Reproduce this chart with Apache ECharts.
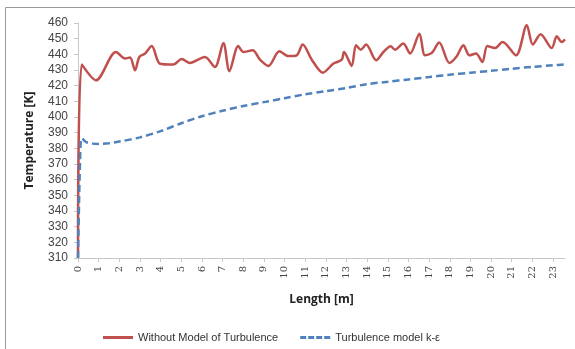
<!DOCTYPE html>
<html><head><meta charset="utf-8">
<script src="https://cdn.jsdelivr.net/npm/echarts@6/dist/echarts.min.js"></script>
<style>html,body{margin:0;padding:0;background:#fff}#c{width:575px;height:349px}</style>
</head><body><div id="c"></div>
<script>
const seriesNames = ["Without Model of Turbulence", "Turbulence model k-ε"];
const xTicks = [0,1,2,3,4,5,6,7,8,9,10,11,12,13,14,15,16,17,18,19,20,21,22,23];
const redX = [0,0.18,0.87,1.84,2.28,2.52,2.76,2.97,3.25,3.57,3.97,4.62,5.02,5.42,5.91,6.15,6.63,7.04,7.33,7.76,8.0,8.46,8.81,9.22,9.75,10.19,10.59,10.88,11.32,11.85,12.37,12.77,12.88,13.25,13.46,13.69,13.95,14.44,14.79,15.14,15.35,15.75,16.08,16.53,16.80,17.13,17.49,17.98,18.34,18.66,18.95,19.27,19.58,19.82,20.19,20.56,21.21,21.73,22.02,22.40,22.94,23.18,23.42,23.58];
const redY = [310,433.5,423.4,441.5,437.3,438,429.8,438.3,440.5,445.3,434,433.5,437,434.5,437.3,438.3,431.9,447.2,429.2,445.3,441.5,442.6,436.6,432.6,441.9,438.9,439.4,446.2,436.6,428.3,434.1,436.6,441.5,432.6,445.8,443,446.2,436.2,441.5,445.1,443,446.9,440.5,453.2,439.4,440.9,447.5,434.5,438.8,445.8,439.4,440.5,435.1,445.3,444,447.9,439.4,458.5,446.2,452.8,444,451.5,447.9,449.6];
const blueX = [0,0.1,0.18,0.4,0.7,1.0,1.5,2,3,4,5,6,7,8,9,10,11,12,13,14,15,16,17,18,19,20,21,22,23,23.58];
const blueY = [310,372,386.5,384,383,382.8,383.3,384.3,387,391,396,400.5,404,407,409.5,412,414.5,416.5,418.5,421,422.5,424,425.5,427,428.3,429.5,430.8,432,433,433.5];

const chart = echarts.init(document.getElementById('c'));
chart.setOption({
  animation:false,
  backgroundColor:'#fff',
  graphic:[{type:'rect',shape:{x:5.5,y:7.5,width:640,height:400},style:{fill:'none',stroke:'#9a9a9a',lineWidth:1},silent:true,z:-1}],
  grid:{left:78,right:10,top:23,bottom:91,containLabel:false},
  legend:{
    left:98, top:327, itemWidth:30, itemHeight:3, itemGap:22,
    textStyle:{fontFamily:'Liberation Sans, Arial',fontSize:11,color:'#333'},
    data:[
      {name:seriesNames[0],icon:'rect'},
      {name:seriesNames[1],icon:'path://M0,0h6v3h-6zM8,0h6v3h-6zM16,0h6v3h-6zM24,0h6v3h-6z'}
    ]
  },
  xAxis:{
    type:'value', min:0, max:23.58, interval:1,
    name:'Length [m]', nameLocation:'middle', nameGap:36,
    nameTextStyle:{fontFamily:'Open Sans, Liberation Sans',fontWeight:'bold',fontSize:12,color:'#222'},
    axisLine:{lineStyle:{color:'#c8c8c8',width:1}},
    axisTick:{show:true,length:4,lineStyle:{color:'#c8c8c8'}},
    splitLine:{show:false},
    axisLabel:{rotate:90,fontFamily:'DejaVu Serif',fontSize:10,color:'#444',margin:8,showMaxLabel:false,
      formatter:v=>xTicks.indexOf(v)>=0?String(v):''}
  },
  yAxis:{
    type:'value', min:310, max:460, interval:10,
    name:'Temperature [K]', nameLocation:'middle', nameGap:42,
    nameTextStyle:{fontFamily:'Open Sans, Liberation Sans',fontWeight:'bold',fontSize:12,color:'#222'},
    axisLine:{show:true,lineStyle:{color:'#c8c8c8',width:1}},
    axisTick:{show:true,length:4,lineStyle:{color:'#c8c8c8'}},
    splitLine:{show:false},
    axisLabel:{fontFamily:'Liberation Sans, Arial',fontSize:12,color:'#444',margin:10}
  },
  series:[
    {name:seriesNames[0],type:'line',data:redX.map((x,i)=>[x,redY[i]]),showSymbol:false,symbol:'none',smooth:0.3,
     lineStyle:{color:'#C0504D',width:2.5},itemStyle:{color:'#C0504D'},z:2},
    {name:seriesNames[1],type:'line',data:blueX.map((x,i)=>[x,blueY[i]]),showSymbol:false,symbol:'none',smooth:0.3,
     lineStyle:{color:'#4F81BD',width:2.5,type:[7,4]},itemStyle:{color:'#4F81BD'},z:3}
  ]
});
</script></body></html>
